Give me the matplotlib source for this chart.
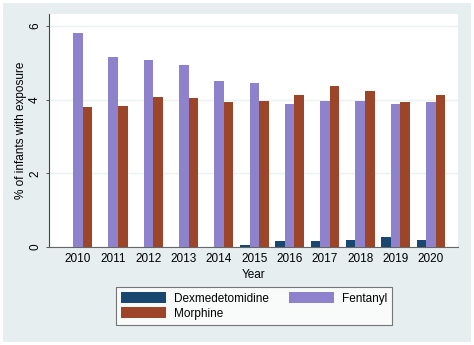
import matplotlib
matplotlib.use("Agg")
import matplotlib.pyplot as plt
from matplotlib.patches import Rectangle
import numpy as np

years = ["2010", "2011", "2012", "2013", "2014", "2015", "2016", "2017", "2018", "2019", "2020"]
dexmedetomidine = [0.01, 0.01, 0.01, 0.01, 0.01, 0.06, 0.17, 0.15, 0.20, 0.28, 0.18]
fentanyl = [5.81, 5.17, 5.07, 4.94, 4.52, 4.45, 3.88, 3.98, 3.98, 3.89, 3.95]
morphine = [3.81, 3.84, 4.07, 4.04, 3.95, 3.97, 4.12, 4.37, 4.24, 3.95, 4.12]
series_names = ["Dexmedetomidine", "Fentanyl", "Morphine"]
yticks = [0, 2, 4, 6]

colors = ["#1a476f", "#8d82cb", "#9d4529"]
bg = "#e6eef0"

plt.rcParams['font.family'] = ['Liberation Sans', 'DejaVu Sans']

W, H = 474, 345
fig = plt.figure(figsize=(W / 100, H / 100), dpi=100)
fig.patch.set_facecolor("white")
bgrect = Rectangle((3 / W, 3 / H), (471 - 3) / W, (342 - 3) / H,
                   transform=fig.transFigure, facecolor=bg,
                   edgecolor="none", zorder=-10)
fig.add_artist(bgrect)

ax = fig.add_axes([49 / W, (H - 247) / H, (458 - 49) / W, (247 - 14) / H])
ax.set_zorder(1)
ax.set_facecolor("white")

x = np.arange(len(years))
w = 0.27
for i, (vals, name) in enumerate(zip([dexmedetomidine, fentanyl, morphine], series_names)):
    ax.bar(x + (i - 1) * w, vals, width=w, color=colors[i], label=name,
           edgecolor="none", zorder=3)

ax.set_xlim(-0.82, 10.77)
ax.set_ylim(0, 6.33)
ax.set_yticks(yticks)
ax.set_yticklabels([str(t) for t in yticks], rotation=90, va="center", fontsize=8.5)
ax.set_xticks(x)
ax.set_xticklabels(years, fontsize=8.5)
ax.tick_params(axis="x", length=0, pad=4)
ax.tick_params(axis="y", length=2.5, width=0.7, color="#555555", pad=3.2)
ax.grid(axis="y", color="#eaf2f3", linewidth=1.0, zorder=0)

for s in ["top", "right"]:
    ax.spines[s].set_visible(False)
ax.spines["left"].set_color("#444444")
ax.spines["left"].set_linewidth(0.8)
ax.spines["bottom"].set_color("#666666")
ax.spines["bottom"].set_linewidth(0.8)

ax.set_ylabel("% of infants with exposure", fontsize=8.5)
ax.yaxis.set_label_coords(-0.054, 0.5)
ax.set_xlabel("Year", fontsize=8.5, labelpad=3.5)

handles, labels = ax.get_legend_handles_labels()
order = [0, 2, 1]
leg = fig.legend([handles[i] for i in order], [labels[i] for i in order],
                 ncol=2, loc="center", bbox_to_anchor=(254 / W, 1 - 306 / H),
                 fontsize=8.5, frameon=True, fancybox=False,
                 handlelength=3.8, handleheight=1.0, handletextpad=0.7,
                 columnspacing=1.7, labelspacing=0.25, borderpad=0.4)
leg.get_frame().set_edgecolor("#555555")
leg.get_frame().set_linewidth(0.8)
leg.get_frame().set_facecolor("white")

fig.savefig("out.png", dpi=100, facecolor=fig.get_facecolor())
